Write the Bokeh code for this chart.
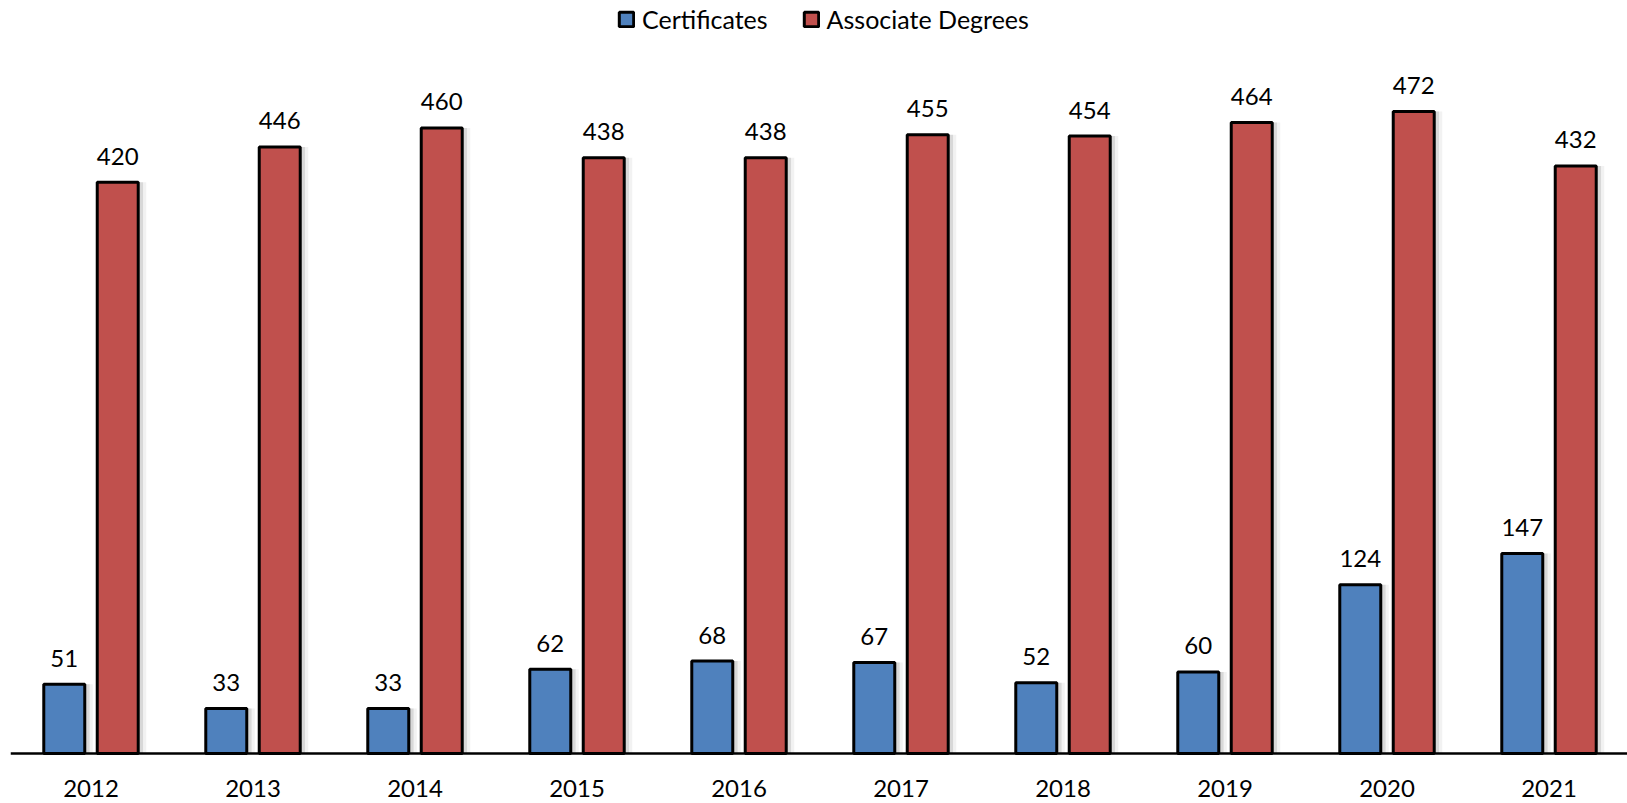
from bokeh.plotting import figure
from bokeh.models import Range1d, ColumnDataSource, Span
from bokeh.core.properties import value
from bokeh.transform import dodge
from bokeh.embed import file_html
from bokeh.resources import INLINE

# ---- data ----
years = [2012, 2013, 2014, 2015, 2016, 2017, 2018, 2019, 2020, 2021]
year_labels = [str(y) for y in years]
certificates = [51, 33, 33, 62, 68, 67, 52, 60, 124, 147]
associate_degrees = [420, 446, 460, 438, 438, 455, 454, 464, 472, 432]
series_names = ["Certificates", "Associate Degrees"]
series_colors = ["#4F81BD", "#C0504D"]

FONT = "Lato"
W, H = 1627, 803
LEFT, TOP = 10, 0
PX_PER_UNIT = 1.36
CAT_PX = 162.0
frame_w = W - LEFT
frame_h = H - TOP
base_px = 753 - TOP  # baseline position inside frame from top

src = ColumnDataSource(dict(
    year=years,
    year_label=year_labels,
    cert=certificates,
    assoc=associate_degrees,
    cert_txt=[str(v) for v in certificates],
    assoc_txt=[str(v) for v in associate_degrees],
    base=[0] * len(years),
))

y_top = base_px / PX_PER_UNIT
y_bot = -(frame_h - base_px) / PX_PER_UNIT
x0 = years[0] - 0.5 + 0.5 / CAT_PX
p = figure(width=W, height=H, output_backend="svg", toolbar_location=None,
           x_range=Range1d(x0, x0 + frame_w / CAT_PX),
           y_range=Range1d(y_bot, y_top),
           x_axis_location=None, y_axis_location=None,
           min_border_left=LEFT, min_border_right=0, min_border_top=TOP, min_border_bottom=0)
p.grid.visible = False
p.outline_line_color = None
p.background_fill_color = "white"

OFF = 0.165
BW = 0.253
SH = 4 / CAT_PX

# soft shadows
for off, key in [(-OFF, "cert"), (OFF, "assoc")]:
    p.vbar(x=dodge("year", off + SH, range=p.x_range), top=key, bottom=0, width=BW + 0.01,
           source=src, fill_color="#7f7f7f", fill_alpha=0.22, line_color=None)
    p.vbar(x=dodge("year", off + 2 * SH, range=p.x_range), top=key, bottom=0, width=BW,
           source=src, fill_color="#7f7f7f", fill_alpha=0.10, line_color=None)

p.vbar(x=dodge("year", -OFF, range=p.x_range), top="cert", bottom=0, width=BW, source=src,
       fill_color=series_colors[0], line_color="black", line_width=3,
       legend_label=series_names[0])
p.vbar(x=dodge("year", OFF, range=p.x_range), top="assoc", bottom=0, width=BW, source=src,
       fill_color=series_colors[1], line_color="black", line_width=3,
       legend_label=series_names[1])

# value labels
p.text(x=dodge("year", -OFF, range=p.x_range), y="cert", text="cert_txt", source=src,
       text_align="center", text_baseline="alphabetic", y_offset=-26,
       text_font=value(FONT), text_font_size="24px", text_color="black")
p.text(x=dodge("year", OFF, range=p.x_range), y="assoc", text="assoc_txt", source=src,
       text_align="center", text_baseline="alphabetic", y_offset=-26,
       text_font=value(FONT), text_font_size="24px", text_color="black")

# category labels
p.text(x="year", y="base", text="year_label", source=src,
       text_align="center", text_baseline="alphabetic", y_offset=35,
       text_font=value(FONT), text_font_size="24px", text_color="black")

p.add_layout(Span(location=0, dimension="width", line_color="black", line_width=2.5))

lg = p.legend[0]
lg.orientation = "horizontal"
lg.location = (607, 769)
lg.glyph_width = 18
lg.glyph_height = 18
lg.label_standoff = 7
lg.spacing = 34
lg.padding = 0
lg.margin = 0
lg.border_line_color = None
lg.background_fill_alpha = 0
lg.label_text_font = FONT
lg.label_text_font_size = "25px"
lg.label_text_color = "black"

open("out.html", "w").write(file_html(p, INLINE))
